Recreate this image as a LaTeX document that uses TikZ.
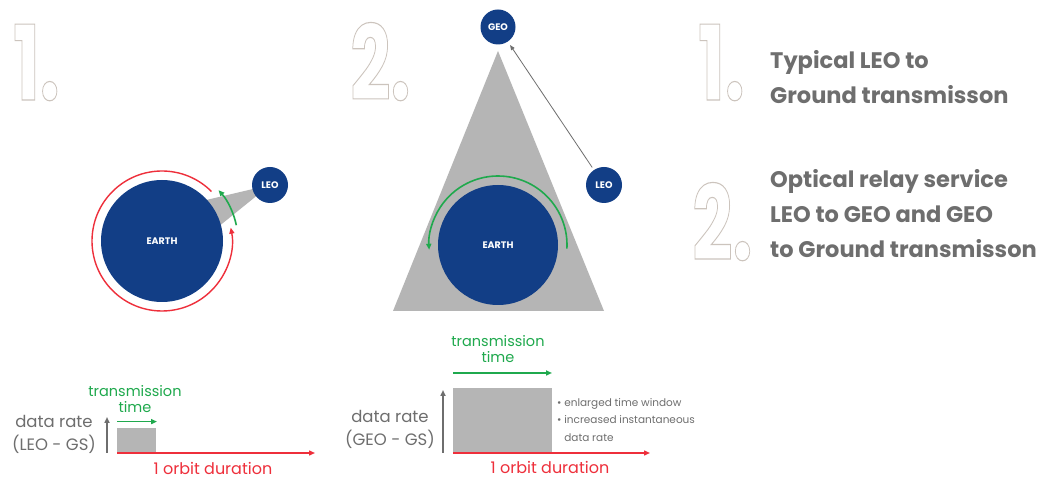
\documentclass[tikz,border=0pt]{standalone}
\usepackage{fontspec}
\setmainfont{Poppins}
\usetikzlibrary{arrows.meta,calc,positioning}

\definecolor{earthblue}{HTML}{123E86}
\definecolor{conegray}{HTML}{B5B5B5}
\definecolor{textgray}{HTML}{6E6E6E}
\definecolor{orbitred}{HTML}{EE2F3B}
\definecolor{linkgreen}{HTML}{1FA94D}

% white glyphs with a thin grey rim (fill + stroke render mode)
\newcommand{\hollow}[1]{\special{pdf:code 2 Tr 1.1 w 0.80 0.77 0.74 RG}#1\special{pdf:code 0 Tr}}

\begin{document}
\begin{tikzpicture}[x=1pt,y=1pt,
  planet/.style={circle, fill=earthblue, text=white, inner sep=0pt, font=\bfseries\fontsize{9.5}{9.5}\selectfont},
  sat/.style={planet, minimum size=36pt},
  cone/.style={fill=conegray},
  bignum/.style={text=white, font=\bfseries\fontsize{104}{104}\selectfont, xscale=0.68, anchor=base west, inner sep=0pt},
  caption/.style={text=textgray, font=\bfseries\fontsize{22.5}{35}\selectfont, align=left, anchor=north west, inner sep=0pt},
  lbl/.style={font=\fontsize{14.5}{16.5}\selectfont, align=center, inner sep=0pt},
  note/.style={text=textgray, font=\fontsize{10.5}{17.5}\selectfont, align=left, anchor=north west, inner sep=0pt},
  redarr/.style={orbitred, line width=1.4pt, -{Triangle[length=6pt,width=5pt]}},
  greenarr/.style={linkgreen, line width=1.6pt, -{Triangle[length=6pt,width=5pt]}},
  axis/.style={textgray, line width=1.6pt, -{Triangle[length=6pt,width=5pt]}}]

\fill[white] (0,0) rectangle (1042,479);

% big numbers
\foreach \x/\y/\t/\n in {13/379/1./numA, 350/379/2./numB, 698/379/1./numC, 692/219/2./numD}{
  \node[bignum] (\n) at (\x,\y) {\hollow{\t}};
}

% ---- 1: LEO straight to the ground
\coordinate (cA) at (162,238);
\coordinate (sA) at (270,294);
\fill[cone] (sA) -- ($(cA)+(43:60pt)$) -- ($(cA)+(15:60pt)$) -- cycle;
\node[planet, minimum size=122pt] (earthA) at (cA) {EARTH};
\node[sat] (leoA) at (sA) {LEO};
\draw[redarr] ([shift={(45:70pt)}]earthA.center) arc[start angle=45, end angle=371, radius=70pt];
\draw[greenarr] ([shift={(12:76pt)}]earthA.center) arc[start angle=12, end angle=42, radius=76pt];

% ---- 2: relay through GEO
\fill[cone] (498,428) -- (393,168) -- (604,168) -- cycle;
\node[planet, minimum size=120pt] (earthB) at (498,234) {EARTH};
\node[sat, minimum size=35pt] (geo) at (498,452) {GEO};
\node[sat] (leoB) at (604,294) {LEO};
\draw[greenarr] ([shift={(-3:69pt)}]earthB.center) arc[start angle=-3, end angle=184, radius=69pt];
\draw[textgray, line width=0.8pt, -{Triangle[length=5pt,width=4pt]}, shorten <=3pt, shorten >=4pt] (leoB) -- (geo);

% captions on the right
\node[caption] (capA) at (770,429) {Typical LEO to\\Ground transmisson};
\node[caption] (capB) at (770,310) {Optical relay service\\LEO to GEO and GEO\\to Ground transmisson};

% ---- data rate, LEO - GS
\coordinate (oA) at (117,26);
\node[fill=conegray, minimum width=39pt, minimum height=24pt, inner sep=0pt, anchor=south west] (barA) at (117,27) {};
\draw[axis] (107,26) -- (107,62);
\draw[redarr] (oA) -- (315,26);
\draw[greenarr] (barA.north west) ++(0,6) coordinate (gA) -- ++(40,0);
\node[lbl, text=linkgreen] (txA) at (135,80) {transmission\\time};
\node[lbl, text=textgray, font=\fontsize{16.5}{23}\selectfont] (drA) at (54,45) {data rate\\(LEO - GS)};
\node[lbl, text=orbitred, font=\fontsize{16}{16}\selectfont] (obA) at (213,11) {1 orbit duration};

% ---- data rate, GEO - GS
\coordinate (oB) at (453,26);
\node[fill=conegray, minimum width=99pt, minimum height=64pt, inner sep=0pt, anchor=south west] (barB) at (453,27) {};
\draw[axis] (443,26) -- (443,89);
\draw[redarr] (oB) -- (650,26);
\draw[greenarr] (453,106) coordinate (gB) -- (552,106);
\node[lbl, text=linkgreen] (txB) at (498,130) {transmission\\time};
\node[lbl, text=textgray, font=\fontsize{16.5}{23}\selectfont] (drB) at (390,50) {data rate\\(GEO - GS)};
\node[lbl, text=orbitred, font=\fontsize{16}{16}\selectfont] (obB) at (550,12) {1 orbit duration};
\node[note] (notes) at (557,81) {• enlarged time window\\• increased instantaneous\\\phantom{• }data rate};
\end{tikzpicture}
\end{document}
